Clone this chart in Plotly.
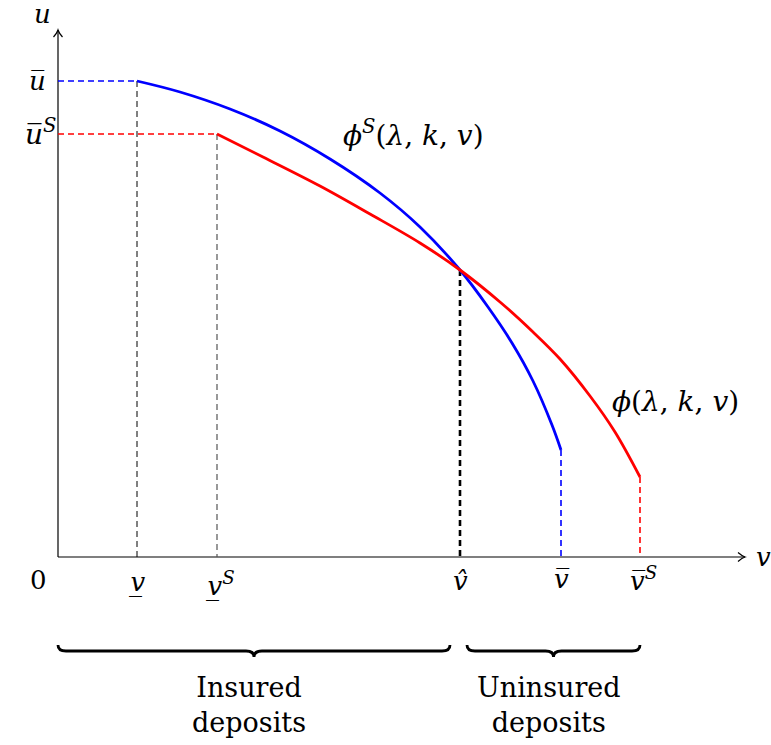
import plotly.graph_objects as go

# ---------------- data ----------------
# phi^S (blue) : v and u values along the curve
blue_v = [0.79, 1.22, 1.72, 2.22, 2.72, 3.22, 3.62, 4.02, 4.30, 4.54, 4.75, 4.94, 5.03]
blue_u = [4.76, 4.65, 4.48, 4.26, 3.98, 3.64, 3.30, 2.87, 2.50, 2.14, 1.76, 1.32, 1.07]
# phi (red)
red_v = [1.59, 2.05, 2.62, 3.12, 3.62, 4.02, 4.42, 4.75, 5.02, 5.32, 5.57, 5.82]
red_u = [4.23, 4.00, 3.71, 3.43, 3.14, 2.87, 2.55, 2.25, 1.98, 1.61, 1.25, 0.80]

v_tick_labels = ["<i>v\u0332</i>", "<i>v\u0332</i><sup><i>S</i></sup>", "<i>v\u0302</i>",
                 "<i>v\u0305</i>", "<i>v\u0305</i><sup><i>S</i></sup>"]
u_tick_labels = ["<i>u\u0305</i>", "<i>u\u0305</i><sup><i>S</i></sup>"]
brace_labels = ["Insured<br>deposits", "Uninsured<br>deposits"]

# ---------------- derived ----------------
v_low, u_bar = blue_v[0], blue_u[0]
v_low_S, u_bar_S = red_v[0], red_u[0]
v_hat, u_hat = blue_v[7], blue_u[7]
v_bar, u_end_b = blue_v[-1], blue_u[-1]
v_bar_S, u_end_r = red_v[-1], red_u[-1]

BLUE = "#0000ff"
RED = "#ff0000"
FONT = "DejaVu Serif"

fig = go.Figure()

def seg(xs, ys, color, width, dash=None):
    fig.add_trace(go.Scatter(x=xs, y=ys, mode="lines",
                             line=dict(color=color, width=width, dash=dash),
                             hoverinfo="skip"))

# axes
x_end, y_end = 6.87, 5.27
seg([0, x_end], [0, 0], "black", 1.2)
seg([0, 0], [0, y_end], "black", 1.2)

# guide lines
D = "6px,4px"
seg([0, v_low], [u_bar, u_bar], BLUE, 1.6, D)
seg([0, v_low_S], [u_bar_S, u_bar_S], RED, 1.6, D)
seg([v_low, v_low], [u_bar, 0], "black", 1.0, D)
seg([v_low_S, v_low_S], [u_bar_S, 0], "#555555", 1.2, D)
seg([v_hat, v_hat], [u_hat, 0], "black", 2.6, D)
seg([v_bar, v_bar], [u_end_b, 0], BLUE, 1.6, D)
seg([v_bar_S, v_bar_S], [u_end_r, 0], RED, 1.6, D)

# curves
fig.add_trace(go.Scatter(x=blue_v, y=blue_u, mode="lines",
                         line=dict(color=BLUE, width=2.8, shape="spline", smoothing=1.0),
                         hoverinfo="skip"))
fig.add_trace(go.Scatter(x=red_v, y=red_u, mode="lines",
                         line=dict(color=RED, width=2.8, shape="spline", smoothing=1.0),
                         hoverinfo="skip"))

shapes = []
# arrow heads (open)
ah, aw = 0.07, 0.045
shapes.append(dict(type="path", xref="x", yref="y",
                   path=f"M {x_end-ah},{aw} Q {x_end-ah*0.4},{aw*0.2} {x_end},0 Q {x_end-ah*0.4},{-aw*0.2} {x_end-ah},{-aw}",
                   line=dict(color="black", width=1.2)))
shapes.append(dict(type="path", xref="x", yref="y",
                   path=f"M {-aw},{y_end-ah} Q {-aw*0.2},{y_end-ah*0.4} 0,{y_end} Q {aw*0.2},{y_end-ah*0.4} {aw},{y_end-ah}",
                   line=dict(color="black", width=1.2)))

# braces
def brace(x0, x1, ytop, depth):
    xm = (x0 + x1) / 2
    r = 0.08
    ym = ytop - depth / 2
    yb = ytop - depth
    return (f"M {x0},{ytop} Q {x0},{ym} {x0+r},{ym} L {xm-r},{ym} "
            f"Q {xm},{ym} {xm},{yb} Q {xm},{ym} {xm+r},{ym} L {x1-r},{ym} Q {x1},{ym} {x1},{ytop}")

brace_spans = [(0.0, v_hat - 0.10), (v_hat + 0.07, v_bar_S)]
for (a, b) in brace_spans:
    shapes.append(dict(type="path", xref="x", yref="y", path=brace(a, b, -0.88, 0.12),
                       line=dict(color="black", width=2.8)))

ann = []
def label(x, y, text, size=26, xa="center", ya="middle"):
    ann.append(dict(x=x, y=y, xref="x", yref="y", text=text, showarrow=False,
                    xanchor=xa, yanchor=ya, font=dict(family=FONT, size=size, color="black")))

label(-0.16, 5.43, "<i>u</i>")
label(7.05, 0.0, "<i>v</i>")
label(-0.20, -0.23, "0")
label(-0.10, u_bar, u_tick_labels[0], xa="right")
label(0.0, u_bar_S + 0.02, u_tick_labels[1], xa="right", size=28)
tick_y = [-0.25, -0.27, -0.24, -0.22, -0.22]
for v, t, yy in zip([v_low, v_low_S, v_hat, v_bar, v_bar_S], v_tick_labels, tick_y):
    label(v + (0.03 if "sup" in t else 0), yy, t)
label(3.55, 4.24, "<i>ϕ</i><sup><i>S</i></sup>(<i>λ</i>, <i>k</i>, <i>v</i>)", size=28)
label(6.17, 1.56, "<i>ϕ</i>(<i>λ</i>, <i>k</i>, <i>v</i>)", size=28)
for (a, b), t in zip(brace_spans, brace_labels):
    label((a + b) / 2 - 0.05, -1.48, t, size=27)

fig.update_layout(
    width=771, height=745, autosize=False,
    margin=dict(l=0, r=0, t=0, b=0),
    plot_bgcolor="white", paper_bgcolor="white",
    font=dict(family=FONT),
    showlegend=False,
    xaxis=dict(range=[-0.58, 7.13], visible=False, fixedrange=True),
    yaxis=dict(range=[-1.88, 5.57], visible=False, fixedrange=True),
    shapes=shapes, annotations=ann,
)
fig.write_html("out.html", config={"displayModeBar": False},
               post_script="document.body.style.margin='0';document.body.style.overflow='hidden';")
